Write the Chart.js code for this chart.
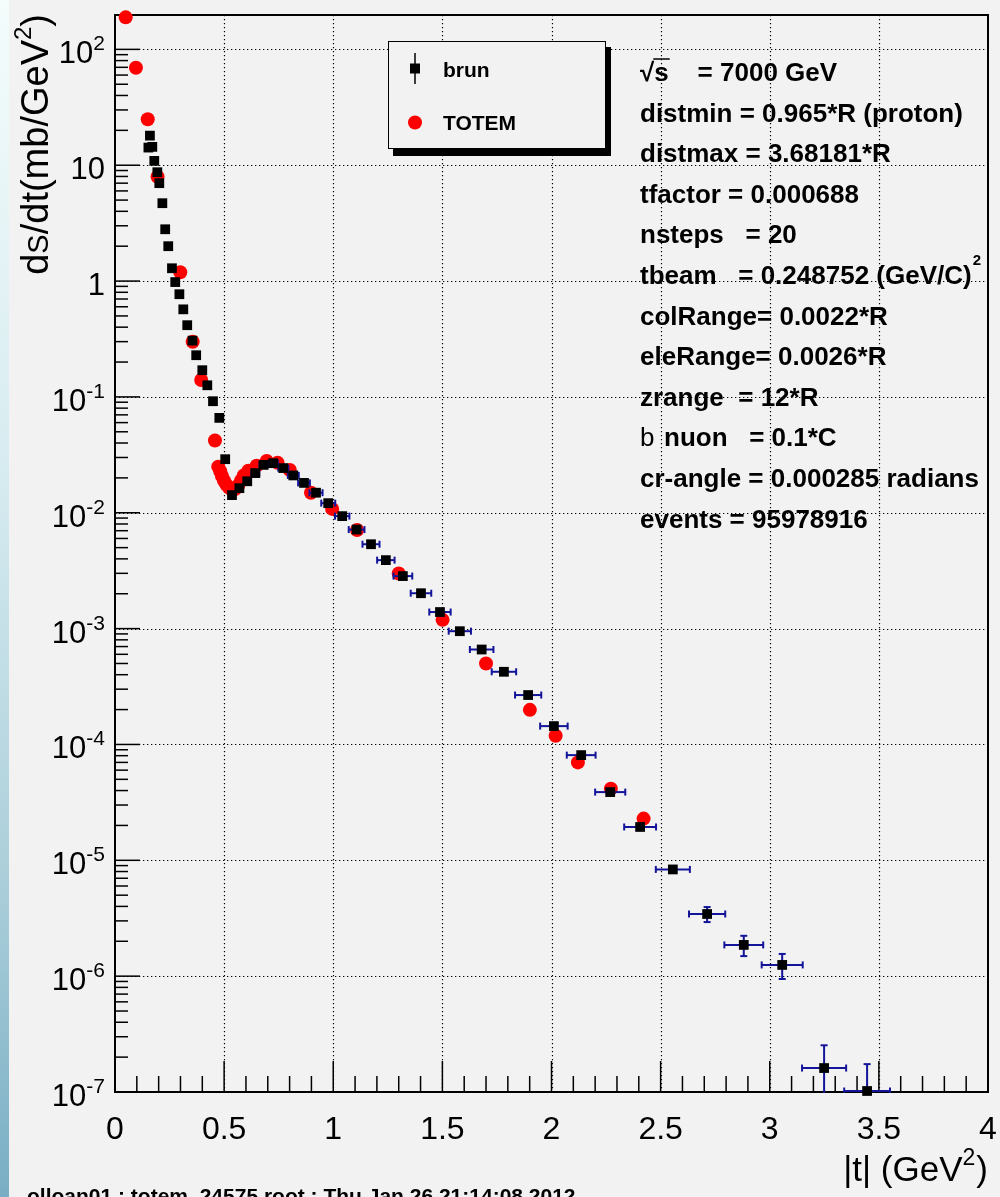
<!DOCTYPE html>
<html><head><meta charset="utf-8">
<style>
html,body{margin:0;padding:0;background:#f2f2f2;}
#wrap{position:relative;width:1000px;height:1197px;overflow:hidden;background:#f2f2f2;}
#strip{position:absolute;left:0;top:0;width:9px;height:1197px;background:linear-gradient(#f4fcfc,#d6ebf0 40%,#a9cdd9 75%,#78aec4);}
canvas{position:absolute;left:0;top:0;}
</style>
<script src="https://cdn.jsdelivr.net/npm/chart.js@4.4.0/dist/chart.umd.min.js"></script>
</head><body><div id="wrap"><div id="strip"></div><canvas id="c" width="1000" height="1197"></canvas></div>
<script>
// ---- data ----
const brunT = [0.153,0.160,0.171,0.180,0.194,0.203,0.217,0.230,0.244,0.261,0.276,0.295,0.313,0.331,0.355,0.372,0.400,0.423,0.449,0.478,0.505,0.536,0.570,0.606,0.643,0.681,0.725,0.771,0.817,0.866,0.921,0.977,1.041,1.107,1.173,1.241,1.319,1.402,1.489,1.580,1.680,1.782,1.893,2.011,2.136,2.269,2.406,2.556,2.713,2.881,3.057,3.249,3.446];
const brunY = [14.2,18.0,14.4,10.9,8.7,7.0,4.7,2.8,2.0,1.29,0.98,0.77,0.57,0.416,0.306,0.229,0.170,0.126,0.0918,0.0659,0.029,0.0142,0.0163,0.0187,0.0220,0.0259,0.0268,0.0243,0.0210,0.0181,0.0149,0.0121,0.00935,0.00716,0.00535,0.0039,0.00284,0.00202,0.00139,0.00095,0.00066,0.000424,0.000267,0.000144,8.09e-5,3.88e-5,1.94e-5,8.34e-6,3.44e-6,1.86e-6,1.25e-6,1.61e-7,1.02e-7];
const brunTErr = [0.008,0.008,0.008,0.008,0.008,0.008,0.008,0.008,0.008,0.008,0.008,0.008,0.008,0.008,0.008,0.008,0.008,0.008,0.008,0.008,0.012,0.012,0.014,0.016,0.018,0.019,0.021,0.023,0.025,0.027,0.030,0.032,0.033,0.036,0.039,0.040,0.043,0.047,0.049,0.051,0.054,0.056,0.060,0.063,0.066,0.069,0.073,0.078,0.083,0.089,0.094,0.101,0.105];
const brunYErr = [0,0,0,0,0,0,0,0,0,0,0,0,0,0,0,0,0,0,0,0,0,0,0,0,0,0,0,0,0,0,0,0,0,0,0,0,0,0,0,0,0,0,0,0,0,0,0,4e-7,5.1e-7,3.7e-7,3.05e-7,0.92e-7,0.72e-7];
const totemT = [0.049,0.096,0.150,0.195,0.299,0.356,0.395,0.458,0.473,0.482,0.490,0.499,0.510,0.522,0.535,0.550,0.565,0.578,0.590,0.611,0.649,0.695,0.745,0.801,0.898,0.995,1.109,1.300,1.501,1.700,1.901,2.019,2.121,2.272,2.422];
const totemY = [189,69.3,24.9,7.96,1.19,0.299,0.140,0.042,0.025,0.0228,0.0208,0.0190,0.0175,0.0165,0.0158,0.0160,0.0172,0.0190,0.0210,0.0231,0.0255,0.0280,0.0270,0.0234,0.0149,0.0108,0.0071,0.00299,0.00119,0.00050,0.000199,0.000119,7.0e-5,4.15e-5,2.29e-5];

const xTickValues = [0,0.5,1,1.5,2,2.5,3,3.5,4];
const xTickLabels = ['0','0.5','1','1.5','2','2.5','3','3.5','4'];
const yTickValues = [1e2,1e1,1,1e-1,1e-2,1e-3,1e-4,1e-5,1e-6,1e-7];
const yTickBase = ['10','10','1','10','10','10','10','10','10','10'];
const yTickExp = ['2','','','-1','-2','-3','-4','-5','-6','-7'];
const seriesNames = ['brun','TOTEM'];
const infoLines = [
  {pre:'', text:'\u221As    = 7000 GeV', sup:''},
  {pre:'', text:'distmin = 0.965*R (proton)', sup:''},
  {pre:'', text:'distmax = 3.68181*R', sup:''},
  {pre:'', text:'tfactor = 0.000688', sup:''},
  {pre:'', text:'nsteps   = 20', sup:''},
  {pre:'', text:'tbeam   = 0.248752 (GeV/C)', sup:'2'},
  {pre:'', text:'colRange= 0.0022*R', sup:''},
  {pre:'', text:'eleRange= 0.0026*R', sup:''},
  {pre:'', text:'zrange  = 12*R', sup:''},
  {pre:'b', text:'nuon   = 0.1*C', sup:''},
  {pre:'', text:'cr-angle = 0.000285 radians', sup:''},
  {pre:'', text:'events = 95978916', sup:''}
];
const footerText = 'olloan01 : totem, 24575 root : Thu Jan 26 21:14:08 2012';

const FF = '"Liberation Sans", Arial, Helvetica, sans-serif';
const ERR_COLOR = '#14149a';

function line(ctx,x1,y1,x2,y2){ctx.beginPath();ctx.moveTo(x1,y1);ctx.lineTo(x2,y2);ctx.stroke();}

const rootPlugin = {
  id:'rootStyle',
  beforeDatasetsDraw(chart){
    const {ctx, chartArea:a, scales:{x,y}} = chart;
    ctx.save();
    // dotted grid
    ctx.strokeStyle='#000'; ctx.lineWidth=1.2; ctx.setLineDash([1.3,2.7]);
    xTickValues.forEach(v=>{
      const px=Math.round(x.getPixelForValue(v))+0.5;
      if(px>a.left+2 && px<a.right-2) line(ctx,px,a.top,px,a.bottom);
    });
    yTickValues.forEach(v=>{
      const py=Math.round(y.getPixelForValue(v))+0.5;
      if(py>a.top+2 && py<a.bottom-2) line(ctx,a.left,py,a.right,py);
    });
    ctx.setLineDash([]);
    // tick marks
    ctx.lineWidth=1.5; ctx.strokeStyle='#000';
    for(let i=0;i<=40;i++){
      const v=i/10; const px=x.getPixelForValue(v);
      const len = (i%5===0)?31:16;
      line(ctx,px,a.bottom,px,a.bottom-len);
    }
    for(let e=-7;e<=2;e++){
      for(let k=1;k<=9;k++){
        const v=k*Math.pow(10,e);
        if(v>198) continue;
        const py=y.getPixelForValue(v);
        line(ctx,a.left,py,a.left+(k===1?25:13),py);
      }
    }
    // frame
    ctx.lineWidth=2;
    ctx.strokeRect(a.left,a.top,a.right-a.left,a.bottom-a.top);
    ctx.restore();
  },
  beforeDatasetDraw(chart,args){
    if(args.index!==0) return;
    const {ctx, chartArea:a, scales:{x,y}} = chart;
    ctx.save();
    ctx.beginPath(); ctx.rect(a.left,a.top,a.right-a.left,a.bottom-a.top+1); ctx.clip();
    ctx.strokeStyle=ERR_COLOR; ctx.lineWidth=2;
    brunT.forEach((t,i)=>{
      const px=x.getPixelForValue(t), py=y.getPixelForValue(brunY[i]);
      const dx=brunTErr[i];
      if(dx>0){
        const x1=x.getPixelForValue(t-dx), x2=x.getPixelForValue(t+dx);
        line(ctx,x1,py,x2,py);
        line(ctx,x1,py-3.5,x1,py+3.5);
        line(ctx,x2,py-3.5,x2,py+3.5);
      }
      const dy=brunYErr[i];
      if(dy>0){
        const yHi=y.getPixelForValue(brunY[i]+dy);
        const lo=brunY[i]-dy;
        const yLo= lo>1e-7 ? y.getPixelForValue(lo) : a.bottom+2;
        line(ctx,px,yHi,px,yLo);
        line(ctx,px-3.5,yHi,px+3.5,yHi);
        if(lo>1e-7) line(ctx,px-3.5,yLo,px+3.5,yLo);
      }
    });
    ctx.restore();
  },
  afterDatasetsDraw(chart){
    const {ctx, chartArea:a, scales:{x,y}} = chart;
    ctx.save();
    ctx.fillStyle='#000';
    // x tick labels
    ctx.font='32px '+FF; ctx.textAlign='center'; ctx.textBaseline='alphabetic';
    xTickValues.forEach((v,i)=>{
      ctx.fillText(xTickLabels[i], x.getPixelForValue(v), 1139);
    });
    // y tick labels
    yTickValues.forEach((v,i)=>{
      const py=y.getPixelForValue(v);
      const xr=105;
      ctx.textAlign='left';
      ctx.font='21px '+FF;
      const ew = yTickExp[i] ? ctx.measureText(yTickExp[i]).width : 0;
      if(yTickExp[i]) ctx.fillText(yTickExp[i], xr-ew, py+1);
      ctx.font='31px '+FF;
      const bw = ctx.measureText(yTickBase[i]).width;
      ctx.fillText(yTickBase[i], xr-ew-bw, py+14);
    });
    // x title
    {
      const f1='35px '+FF, f2='23px '+FF;
      ctx.font=f1; const w1=ctx.measureText('|t| (GeV').width; const w3=ctx.measureText(')').width;
      ctx.font=f2; const w2=ctx.measureText('2').width;
      let xs=988-(w1+w2+w3+1); const by=1181;
      ctx.textAlign='left';
      ctx.font=f1; ctx.fillText('|t| (GeV',xs,by);
      ctx.font=f2; ctx.fillText('2',xs+w1,by-16);
      ctx.font=f1; ctx.fillText(')',xs+w1+w2+1,by);
    }
    // y title (rotated)
    {
      const f1='38px '+FF, fS='29px '+FF, f2='24px '+FF;
      const parts=[['d',f1,0],['S',fS,0],['/dt(mb/GeV',f1,0],['2',f2,-17],[')',f1,0]];
      let tot=0; parts.forEach(p=>{ctx.font=p[1]; p.push(ctx.measureText(p[0]).width); tot+=p[3];});
      ctx.save(); ctx.translate(48,14+tot); ctx.rotate(-Math.PI/2);
      ctx.textAlign='left'; let cx=0;
      parts.forEach(p=>{ctx.font=p[1]; ctx.fillText(p[0],cx,p[2]); cx+=p[3];});
      ctx.restore();
    }
    // legend box
    {
      ctx.fillStyle='#000'; ctx.fillRect(393,47,218,109);
      ctx.fillStyle='#f2f2f2'; ctx.fillRect(388,41,218,108);
      ctx.strokeStyle='#000'; ctx.lineWidth=1; ctx.strokeRect(388.5,41.5,217,107);
      ctx.lineWidth=1.5; line(ctx,415,53,415,84);
      ctx.fillStyle='#000'; ctx.fillRect(410,63.5,10,10);
      ctx.fillStyle='#ff0000'; ctx.beginPath(); ctx.arc(415,122.5,7,0,Math.PI*2); ctx.fill();
      ctx.fillStyle='#000'; ctx.font='bold 21px '+FF; ctx.textAlign='left';
      ctx.fillText(seriesNames[0],443,77);
      ctx.fillText(seriesNames[1],443,130);
    }
    // info text
    {
      ctx.textAlign='left'; ctx.fillStyle='#000';
      infoLines.forEach((ln,i)=>{
        const by=81+40.6*i;
        let xs=640;
        if(ln.pre){ctx.font='26px '+FF; ctx.fillText(ln.pre,xs,by); xs=664;}
        ctx.font='bold 26px '+FF;
        ctx.fillText(ln.text,xs,by);
        if(i===0){
          const w0=ctx.measureText('\u221A').width, ws=ctx.measureText('\u221As').width;
          ctx.lineWidth=1.5; ctx.strokeStyle='#000';
          line(ctx,xs+w0-1,by-22,xs+ws+1,by-22);
        }
        if(ln.sup){
          const w=ctx.measureText(ln.text).width;
          ctx.font='bold 15px '+FF; ctx.fillText(ln.sup,xs+w+1,by-19);
        }
      });
    }
    // footer
    ctx.font='bold 21px '+FF; ctx.textAlign='left'; ctx.fillStyle='#000';
    ctx.fillText(footerText,27,1203);
    ctx.restore();
  }
};

new Chart(document.getElementById('c').getContext('2d'), {
  type:'scatter',
  data:{datasets:[
    {label:seriesNames[0], data:brunT.map((t,i)=>({x:t,y:brunY[i]})), pointStyle:'rect', pointRadius:6.9, pointHoverRadius:6.9,
     backgroundColor:'#000', borderColor:'#000', borderWidth:0, clip:false},
    {label:seriesNames[1], data:totemT.map((t,i)=>({x:t,y:totemY[i]})), pointStyle:'circle', pointRadius:7, pointHoverRadius:7,
     backgroundColor:'#ff0000', borderColor:'#ff0000', borderWidth:0, clip:false}
  ]},
  options:{
    responsive:false, animation:false, devicePixelRatio:1, events:[],
    layout:{padding:{left:0,right:12,top:15,bottom:0}},
    plugins:{legend:{display:false}, tooltip:{enabled:false}},
    scales:{
      x:{type:'linear', min:0, max:4, afterFit(s){s.height=105;}, grid:{display:false}, border:{display:false}, ticks:{display:false}},
      y:{type:'logarithmic', min:1e-7, max:198, afterFit(s){s.width=115;}, grid:{display:false}, border:{display:false}, ticks:{display:false}}
    }
  },
  plugins:[rootPlugin]
});
</script>
</body></html>
